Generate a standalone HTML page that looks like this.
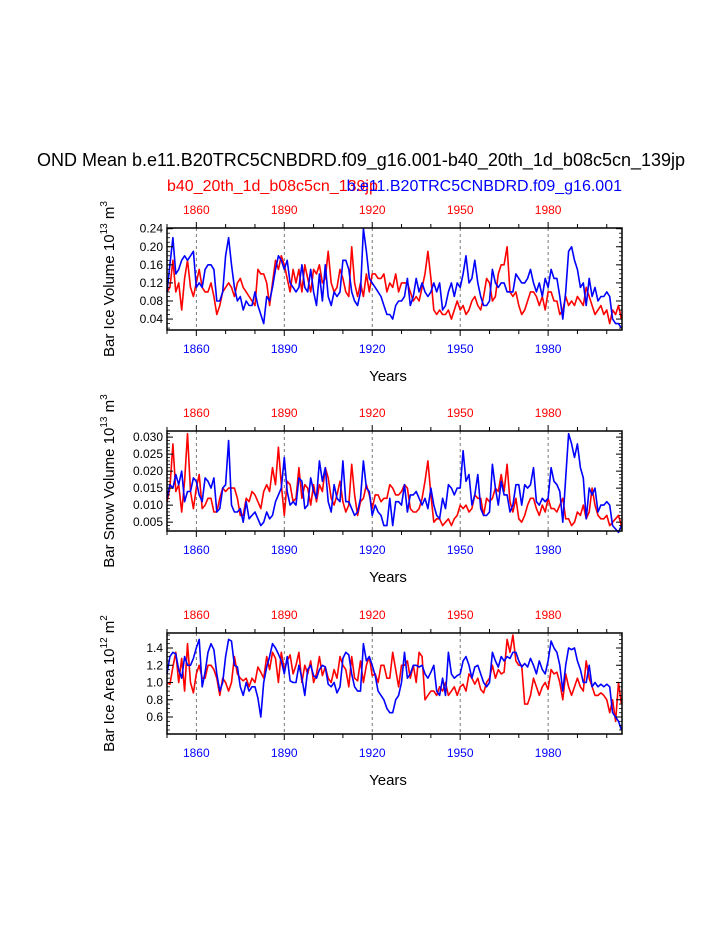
<!DOCTYPE html>
<html><head><meta charset="utf-8"><style>
html,body{margin:0;padding:0;background:#fff;}
svg{display:block;font-family:"Liberation Sans",Arial,sans-serif;}
</style></head><body>
<svg id="chart" width="723" height="935" viewBox="0 0 723 935">
<text x="361" y="166" font-size="18" text-anchor="middle">OND Mean b.e11.B20TRC5CNBDRD.f09_g16.001-b40_20th_1d_b08c5cn_139jp</text>
<text x="167" y="191" font-size="16" fill="#f00">b40_20th_1d_b08c5cn_139jp</text>
<text x="622" y="191" font-size="16" fill="#00f" text-anchor="end">b.e11.B20TRC5CNBDRD.f09_g16.001</text>
</svg>
<script>
const years = []; for (let y = 1850; y <= 2005; y++) years.push(y);
const majorYears = [1860, 1890, 1920, 1950, 1980];
const iceVolBlue = [0.10,0.16,0.22,0.14,0.15,0.17,0.18,0.17,0.18,0.19,0.11,0.12,0.11,0.15,0.16,0.16,0.15,0.08,0.08,0.10,0.18,0.22,0.16,0.11,0.08,0.09,0.06,0.08,0.07,0.07,0.10,0.07,0.05,0.03,0.09,0.08,0.11,0.15,0.18,0.17,0.15,0.17,0.12,0.11,0.10,0.11,0.16,0.11,0.10,0.15,0.10,0.07,0.14,0.08,0.16,0.09,0.07,0.10,0.09,0.10,0.17,0.17,0.15,0.10,0.08,0.07,0.10,0.24,0.19,0.13,0.12,0.11,0.10,0.09,0.07,0.05,0.05,0.04,0.07,0.08,0.08,0.09,0.13,0.07,0.09,0.13,0.10,0.12,0.10,0.09,0.10,0.12,0.10,0.12,0.06,0.07,0.10,0.12,0.09,0.12,0.11,0.14,0.18,0.12,0.13,0.17,0.12,0.09,0.07,0.07,0.08,0.15,0.12,0.11,0.12,0.12,0.10,0.10,0.10,0.14,0.13,0.12,0.12,0.13,0.15,0.12,0.10,0.12,0.09,0.13,0.11,0.15,0.13,0.13,0.09,0.04,0.10,0.19,0.20,0.17,0.15,0.11,0.12,0.07,0.13,0.09,0.11,0.08,0.09,0.09,0.10,0.09,0.04,0.03,0.03,0.02];
const iceVolRed = [0.10,0.11,0.17,0.10,0.12,0.06,0.13,0.17,0.11,0.09,0.12,0.15,0.11,0.10,0.10,0.12,0.09,0.05,0.07,0.10,0.11,0.12,0.11,0.09,0.12,0.13,0.11,0.10,0.09,0.08,0.07,0.15,0.14,0.14,0.12,0.07,0.12,0.17,0.15,0.18,0.16,0.13,0.10,0.15,0.12,0.15,0.10,0.16,0.13,0.10,0.15,0.14,0.16,0.12,0.13,0.19,0.12,0.10,0.11,0.15,0.13,0.10,0.09,0.20,0.12,0.09,0.12,0.09,0.14,0.10,0.14,0.14,0.13,0.13,0.14,0.10,0.12,0.11,0.14,0.10,0.12,0.12,0.12,0.10,0.08,0.09,0.08,0.11,0.14,0.19,0.13,0.06,0.05,0.06,0.05,0.05,0.06,0.04,0.06,0.08,0.06,0.07,0.05,0.06,0.08,0.09,0.07,0.06,0.09,0.13,0.12,0.08,0.09,0.14,0.16,0.16,0.20,0.10,0.09,0.10,0.07,0.05,0.06,0.08,0.10,0.10,0.09,0.07,0.09,0.06,0.10,0.10,0.08,0.08,0.05,0.06,0.09,0.07,0.08,0.07,0.09,0.08,0.07,0.11,0.09,0.07,0.05,0.06,0.07,0.05,0.06,0.03,0.06,0.05,0.07,0.04];
const snowBlue = [0.012,0.016,0.015,0.019,0.016,0.020,0.011,0.014,0.014,0.018,0.017,0.013,0.011,0.018,0.017,0.015,0.018,0.008,0.009,0.015,0.016,0.029,0.010,0.008,0.008,0.009,0.005,0.011,0.006,0.007,0.008,0.006,0.004,0.005,0.008,0.006,0.007,0.011,0.013,0.015,0.024,0.014,0.010,0.011,0.010,0.018,0.017,0.009,0.010,0.018,0.014,0.012,0.023,0.017,0.021,0.011,0.008,0.016,0.012,0.011,0.023,0.011,0.011,0.009,0.007,0.008,0.012,0.023,0.015,0.014,0.007,0.010,0.008,0.007,0.004,0.004,0.012,0.004,0.011,0.011,0.010,0.016,0.008,0.013,0.013,0.014,0.012,0.010,0.012,0.009,0.015,0.010,0.007,0.006,0.012,0.009,0.016,0.015,0.013,0.015,0.015,0.026,0.017,0.019,0.010,0.013,0.019,0.009,0.007,0.007,0.008,0.022,0.015,0.010,0.017,0.013,0.013,0.008,0.010,0.016,0.016,0.010,0.016,0.015,0.016,0.021,0.011,0.010,0.012,0.011,0.012,0.021,0.017,0.016,0.014,0.005,0.018,0.031,0.028,0.024,0.028,0.021,0.018,0.006,0.015,0.013,0.015,0.008,0.010,0.010,0.011,0.010,0.004,0.003,0.002,0.004];
const snowRed = [0.011,0.015,0.028,0.014,0.016,0.008,0.017,0.031,0.014,0.009,0.015,0.019,0.009,0.010,0.012,0.012,0.008,0.008,0.012,0.015,0.014,0.015,0.015,0.015,0.012,0.007,0.007,0.012,0.011,0.014,0.013,0.011,0.009,0.014,0.016,0.014,0.021,0.016,0.027,0.016,0.007,0.017,0.016,0.011,0.012,0.021,0.012,0.016,0.015,0.010,0.016,0.011,0.016,0.014,0.021,0.018,0.012,0.010,0.013,0.017,0.011,0.008,0.010,0.022,0.013,0.007,0.011,0.012,0.016,0.013,0.009,0.013,0.013,0.011,0.012,0.012,0.016,0.015,0.013,0.013,0.014,0.016,0.015,0.009,0.008,0.008,0.009,0.012,0.017,0.023,0.013,0.005,0.006,0.006,0.004,0.005,0.006,0.004,0.006,0.007,0.010,0.009,0.010,0.008,0.009,0.013,0.012,0.012,0.007,0.012,0.011,0.012,0.015,0.014,0.019,0.014,0.022,0.011,0.008,0.012,0.006,0.005,0.007,0.010,0.012,0.012,0.009,0.007,0.010,0.008,0.012,0.009,0.009,0.008,0.010,0.012,0.006,0.006,0.004,0.005,0.008,0.007,0.010,0.006,0.008,0.015,0.010,0.007,0.006,0.006,0.007,0.004,0.005,0.006,0.007,0.004];
const areaBlue = [1.10,1.30,1.35,1.33,1.15,1.05,1.30,1.20,1.20,1.28,1.40,1.50,0.95,1.12,1.35,1.45,1.38,1.10,0.90,1.00,1.30,1.50,1.48,1.20,1.18,0.95,0.85,1.00,0.90,0.95,0.95,0.82,0.60,1.00,1.18,1.30,1.45,1.40,1.33,1.25,1.10,1.30,1.02,1.00,1.00,1.20,1.05,0.85,1.15,1.20,1.08,1.05,1.15,1.20,1.18,0.98,0.95,1.00,0.88,0.95,1.28,1.35,1.32,1.10,0.95,0.90,0.90,1.45,1.25,1.30,1.20,1.08,0.90,0.85,0.80,0.70,0.65,0.65,0.80,0.85,1.00,1.35,1.05,1.10,1.20,1.20,1.18,1.20,1.10,1.05,1.12,1.20,0.90,0.85,1.05,0.85,1.35,1.10,1.05,1.08,1.10,1.25,1.30,1.20,1.05,1.18,1.20,1.10,1.00,0.95,1.00,1.35,1.25,1.18,1.30,1.25,1.30,1.28,1.35,1.35,1.25,1.18,1.22,1.18,1.28,1.20,1.10,1.25,1.15,1.10,1.25,1.48,1.40,1.35,1.20,0.90,1.20,1.40,1.38,1.40,1.25,1.15,1.00,1.00,1.20,0.95,1.00,0.95,0.98,0.95,0.98,0.95,0.65,0.60,0.55,0.45];
const areaRed = [1.00,0.98,1.18,1.35,1.00,1.28,0.90,1.45,1.00,0.88,1.10,1.20,1.05,1.05,1.20,1.20,1.15,1.05,0.85,1.05,1.00,0.90,1.00,1.30,1.10,1.05,1.02,1.05,0.95,1.05,1.00,1.18,1.12,1.05,1.30,1.15,1.35,1.28,1.00,1.35,1.15,1.25,1.32,1.10,1.20,1.35,1.00,1.20,1.10,1.25,1.00,1.10,1.30,1.08,1.18,1.05,1.00,1.15,1.05,1.30,1.20,1.15,0.95,1.30,1.05,1.02,1.25,1.00,1.20,1.30,1.08,1.10,1.00,1.20,1.20,1.05,1.05,1.35,1.15,0.95,1.20,1.20,1.25,1.05,1.20,1.00,1.35,1.30,0.80,0.85,0.90,0.90,0.85,0.95,0.90,1.00,0.85,0.90,0.95,0.85,0.95,0.98,0.90,1.10,1.05,0.98,1.05,0.92,0.88,1.00,1.05,1.20,1.05,1.15,1.10,1.12,1.50,1.35,1.55,1.25,1.20,1.20,0.75,0.75,0.85,1.05,0.95,0.85,0.95,1.00,0.92,1.15,1.10,1.12,1.00,0.80,1.10,0.95,0.85,0.95,1.05,0.95,0.90,1.25,1.05,0.95,0.85,0.85,0.88,0.85,0.80,0.65,0.80,0.55,1.00,0.75];
const ticks1 = [0.04,0.08,0.12,0.16,0.20,0.24];
const tickLabels1 = ["0.04","0.08","0.12","0.16","0.20","0.24"];
const ticks2 = [0.005,0.010,0.015,0.020,0.025,0.030];
const tickLabels2 = ["0.005","0.010","0.015","0.020","0.025","0.030"];
const ticks3 = [0.6,0.8,1.0,1.2,1.4];
const tickLabels3 = ["0.6","0.8","1.0","1.2","1.4"];

const NS = "http://www.w3.org/2000/svg";
const svg = document.getElementById('chart');
const X0 = 167, X1 = 622, Y0 = 1850, Y1 = 2005.2;
function xScale(yr) { return X0 + (yr - Y0) / (Y1 - Y0) * (X1 - X0); }
function mk(tag, attrs, parent) {
  const e = document.createElementNS(NS, tag);
  for (const k in attrs) e.setAttribute(k, attrs[k]);
  (parent || svg).appendChild(e);
  return e;
}

const panels = [
  {top:228,bottom:330,vmin:0.0158,vmax:0.2415,minor:0.01,ticks:ticks1,labels:tickLabels1,blue:iceVolBlue,red:iceVolRed,name:"ice-volume",ylab:["Bar Ice Volume 10","13"," m","3"]},
  {top:431,bottom:531,vmin:0.0024,vmax:0.0318,minor:0.001,ticks:ticks2,labels:tickLabels2,blue:snowBlue,red:snowRed,name:"snow-volume",ylab:["Bar Snow Volume 10","13"," m","3"]},
  {top:633,bottom:734,vmin:0.403,vmax:1.574,minor:0.05,ticks:ticks3,labels:tickLabels3,blue:areaBlue,red:areaRed,name:"ice-area",ylab:["Bar Ice Area 10","12"," m","2"]}
];

panels.forEach(p => {
  const g = mk('g', {});
  
  
  const yS = v => p.bottom - (v - p.vmin) / (p.vmax - p.vmin) * (p.bottom - p.top);
  majorYears.forEach(yr => {
    const l = mk('line', {x1:xScale(yr), x2:xScale(yr), y1:p.top, y2:p.bottom, stroke:'#555', 'stroke-width':0.8, 'stroke-dasharray':'3,3'}, g);
    
    
  });
  [['red', p.red, '#f00'], ['blue', p.blue, '#00f']].forEach(([nm, arr, col]) => {
    const pts = arr.map((v, i) => xScale(years[i]).toFixed(1) + ',' + yS(v).toFixed(1)).join(' ');
    const pl = mk('polyline', {points:pts, fill:'none', stroke:col, 'stroke-width':1.6, 'stroke-linejoin':'round'}, g);
    
    
  });
  const fr = mk('rect', {x:X0, y:p.top, width:X1 - X0, height:p.bottom - p.top, fill:'none', stroke:'#000', 'stroke-width':1.5}, g);
  
  
  for (let yr = 1850; yr <= 2000; yr += 10) {
    const major = majorYears.includes(yr);
    const len = major ? 6 : 4;
    mk('line', {x1:xScale(yr), x2:xScale(yr), y1:p.top, y2:p.top - len, stroke:'#000', 'stroke-width':1}, g);
    mk('line', {x1:xScale(yr), x2:xScale(yr), y1:p.bottom, y2:p.bottom + len, stroke:'#000', 'stroke-width':1}, g);
  }
  majorYears.forEach(yr => {
    const t = mk('text', {x:xScale(yr), y:p.top - 14, 'font-size':12, fill:'#f00', 'text-anchor':'middle'}, g);
    t.textContent = yr;
    
    
    const b = mk('text', {x:xScale(yr), y:p.bottom + 23, 'font-size':12, fill:'#00f', 'text-anchor':'middle'}, g);
    b.textContent = yr;
    
    
  });
  for (let v = Math.ceil(p.vmin / p.minor) * p.minor; v <= p.vmax; v += p.minor) {
    mk('line', {x1:X0, x2:X0 + 3, y1:yS(v), y2:yS(v), stroke:'#000', 'stroke-width':0.8}, g);
    mk('line', {x1:X1, x2:X1 - 3, y1:yS(v), y2:yS(v), stroke:'#000', 'stroke-width':0.8}, g);
  }
  p.ticks.forEach((v, i) => {
    mk('line', {x1:X0, x2:X0 + 6, y1:yS(v), y2:yS(v), stroke:'#000', 'stroke-width':1}, g);
    mk('line', {x1:X1, x2:X1 - 6, y1:yS(v), y2:yS(v), stroke:'#000', 'stroke-width':1}, g);
    const t = mk('text', {x:X0 - 4, y:yS(v) + 4, 'font-size':12, 'text-anchor':'end'}, g);
    t.textContent = p.labels[i];
    
    
  });
  const xt = mk('text', {x:388, y:p.bottom + 51, 'font-size':15, 'text-anchor':'middle'}, g);
  xt.textContent = 'Years';
  
  
  const cy = (p.top + p.bottom) / 2;
  const yt = mk('text', {x:0, y:0, 'font-size':15, 'text-anchor':'middle', transform:'translate(114,' + cy + ') rotate(-90)'}, g);
  
  
  p.ylab.forEach((s, i) => {
    const ts = mk('tspan', {}, yt);
    if (i % 2 === 1) { ts.setAttribute('font-size', 10); ts.setAttribute('dy', -7); }
    else if (i > 0) { ts.setAttribute('dy', 7); }
    ts.textContent = s;
  });
});
</script>
</body></html>
